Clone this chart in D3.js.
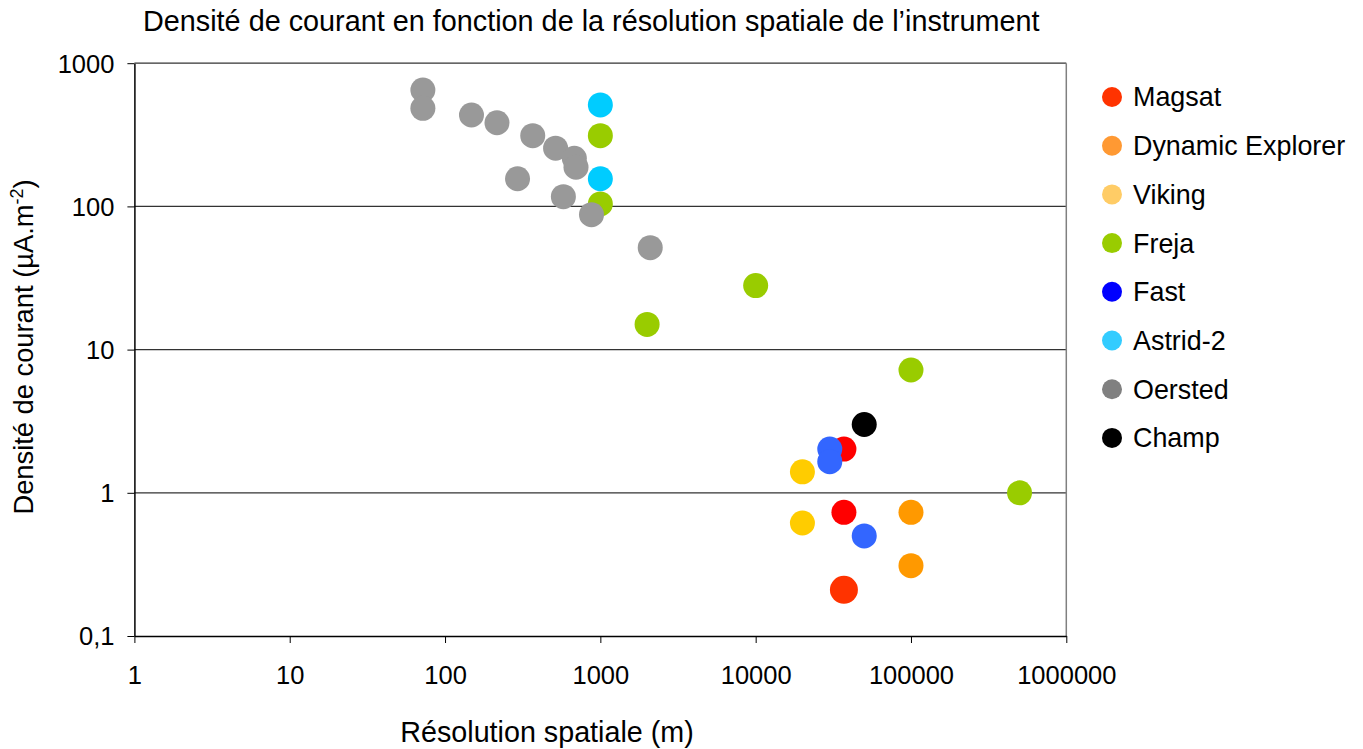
<!DOCTYPE html>
<html>
<head>
<meta charset="utf-8">
<script src="https://cdn.jsdelivr.net/npm/d3@7"></script>
<style>
  body { margin: 0; background: #fff; }
  svg { display: block; font-family: Arial, "Liberation Sans", sans-serif; }
</style>
</head>
<body>
<div id="chart"></div>
<script>
// data (x: spatial resolution in m, y: current density)
const seriesNames = ["Magsat", "Dynamic Explorer", "Viking", "Freja", "Fast", "Astrid-2", "Oersted", "Champ"];

const magsatX = [37000, 37000, 37000];
const magsatY = [2.02, 0.73, 0.21];

const dynExplorerX = [100000, 100000];
const dynExplorerY = [0.73, 0.31];

const vikingX = [20000, 20000];
const vikingY = [1.4, 0.615];

const frejaX = [1000, 1000, 10000, 2000, 100000, 500000];
const frejaY = [312, 104, 28, 15, 7.2, 1.0];

const fastX = [30000, 30000, 50000];
const fastY = [2.02, 1.65, 0.5];

const astridX = [1000, 1000];
const astridY = [511, 156];

const oerstedX = [72, 72, 148, 216, 367, 515, 680, 697, 293, 578, 877, 2095];
const oerstedY = [650, 484, 435, 384, 312, 255, 217, 188, 156, 117, 87.5, 51.5];

const champX = [50000];
const champY = [3.0];

const xTicks = [1, 10, 100, 1000, 10000, 100000, 1000000];
const yTicks = [0.1, 1, 10, 100, 1000];

// colours: legend swatches differ slightly from the markers, like the original
const legendColors = ["#ff3300", "#ff9933", "#ffcc66", "#99cc00", "#0000ff", "#33ccff", "#808080", "#000000"];
const markerColors = ["#ff0000", "#ff9900", "#ffcc00", "#99cc00", "#3366ff", "#00ccff", "#999999", "#000000"];

const seriesX = [magsatX, dynExplorerX, vikingX, frejaX, fastX, astridX, oerstedX, champX];
const seriesY = [magsatY, dynExplorerY, vikingY, frejaY, fastY, astridY, oerstedY, champY];

const width = 1363, height = 749;
const plotLeft = 134.4, plotRight = 1066.3, plotTop = 63.2, plotBottom = 636;

const svg = d3.select("#chart")
  .append("svg")
  .attr("width", width)
  .attr("height", height);

const x = d3.scaleLog().domain([1, 1000000]).range([plotLeft, plotRight]);
const y = d3.scaleLog().domain([0.1, 1000]).range([plotBottom, plotTop]);

// gridlines
svg.append("g")
  .selectAll("line")
  .data(yTicks.slice(1))
  .join("line")
  .attr("x1", plotLeft)
  .attr("x2", plotRight)
  .attr("y1", d => y(d))
  .attr("y2", d => y(d))
  .attr("stroke", "#333")
  .attr("stroke-width", 1.2);

// right border (grey)
svg.append("line")
  .attr("x1", plotRight).attr("x2", plotRight)
  .attr("y1", plotTop).attr("y2", plotBottom)
  .attr("stroke", "#808080")
  .attr("stroke-width", 1.5);

// axes
const fmtY = d => (d < 1 ? String(d).replace(".", ",") : String(d));

const xAxis = svg.append("g")
  .attr("transform", `translate(0,${plotBottom})`)
  .call(d3.axisBottom(x).tickValues(xTicks).tickFormat(d => String(d)).tickSize(7).tickSizeOuter(0));

const yAxis = svg.append("g")
  .attr("transform", `translate(${plotLeft},0)`)
  .call(d3.axisLeft(y).tickValues(yTicks).tickFormat(fmtY).tickSize(7).tickSizeOuter(0));

[xAxis, yAxis].forEach(a => {
  a.select(".domain").attr("stroke", "#000").attr("stroke-width", 1.5);
  a.selectAll(".tick line").attr("stroke", "#000").attr("stroke-width", 1);
  a.selectAll(".tick text")
    .attr("fill", "#000")
    .style("font-size", "25.5px")
    .style("font-family", "Arial, 'Liberation Sans', sans-serif");
});
xAxis.selectAll(".tick text").attr("y", 30).attr("dy", "0.71em");
yAxis.selectAll(".tick text").attr("x", -20).attr("dy", "0.35em");

// points, drawn series by series in legend order
seriesNames.forEach((name, i) => {
  const pts = seriesX[i].map((v, j) => ({ x: v, y: seriesY[i][j], big: i === 0 && j === 2 }));
  svg.append("g")
    .selectAll("circle")
    .data(pts)
    .join("circle")
    .attr("cx", d => x(d.x))
    .attr("cy", d => y(d.y))
    .attr("r", d => (d.big ? 14 : 12.5))
    .attr("fill", d => (d.big ? legendColors[0] : markerColors[i]));
});

// legend
const legend = svg.append("g")
  .selectAll("g")
  .data(seriesNames)
  .join("g")
  .attr("transform", (d, i) => `translate(1112,${97 + i * 48.7})`);

legend.append("circle")
  .attr("r", 10)
  .attr("fill", (d, i) => legendColors[i]);

legend.append("text")
  .attr("x", 21)
  .attr("dy", "0.35em")
  .style("font-size", "26.9px")
  .text(d => d);

// titles
svg.append("text")
  .attr("x", 143)
  .attr("y", 31)
  .style("font-size", "28.8px")
  .text("Densité de courant en fonction de la résolution spatiale de l’instrument");

svg.append("text")
  .attr("x", 547)
  .attr("y", 742)
  .attr("text-anchor", "middle")
  .style("font-size", "28.7px")
  .text("Résolution spatiale (m)");

const yTitle = svg.append("text")
  .attr("transform", "translate(33,347) rotate(-90)")
  .attr("text-anchor", "middle")
  .style("font-size", "27.3px");
yTitle.append("tspan").text("Densité de courant (µA.m");
yTitle.append("tspan").attr("dy", -10).style("font-size", "18px").text("-2");
yTitle.append("tspan").attr("dy", 10).text(")");
</script>
</body>
</html>
